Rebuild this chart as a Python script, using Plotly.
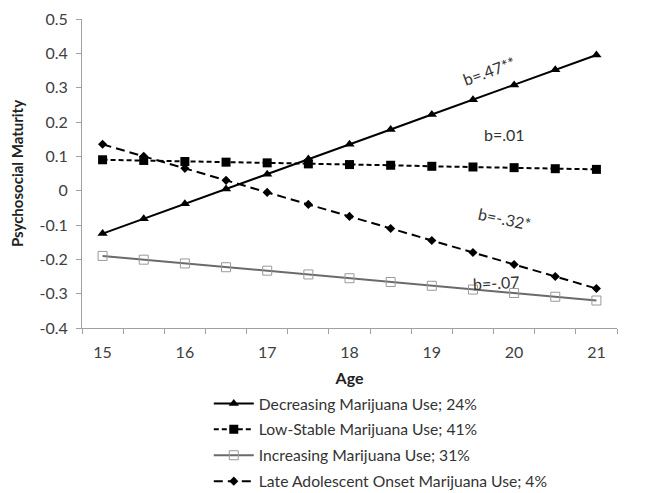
import plotly.graph_objects as go

ages = [15, 15.5, 16, 16.5, 17, 17.5, 18, 18.5, 19, 19.5, 20, 20.5, 21]
decreasing = [-0.125, -0.082, -0.038, 0.005, 0.048, 0.092, 0.135, 0.178, 0.222, 0.265, 0.308, 0.352, 0.395]
low_stable = [0.090, 0.088, 0.085, 0.083, 0.081, 0.078, 0.076, 0.074, 0.071, 0.069, 0.067, 0.064, 0.062]
increasing = [-0.190, -0.201, -0.212, -0.223, -0.233, -0.244, -0.255, -0.266, -0.277, -0.288, -0.298, -0.309, -0.320]
late_onset = [0.135, 0.100, 0.065, 0.030, -0.005, -0.040, -0.075, -0.110, -0.145, -0.180, -0.215, -0.250, -0.285]

names = ["Decreasing Marijuana Use; 24%", "Low-Stable Marijuana Use; 41%",
         "Increasing Marijuana Use; 31%", "Late Adolescent Onset Marijuana Use; 4%"]
x_labels = [15, 16, 17, 18, 19, 20, 21]
y_ticks = [0.5, 0.4, 0.3, 0.2, 0.1, 0, -0.1, -0.2, -0.3, -0.4]
slopes = ["b=.47**", "b=.01", "b=-.32*", "b=-.07"]

FONT = "Lato"

fig = go.Figure()
fig.add_trace(go.Scatter(x=ages, y=decreasing, name=names[0], mode="lines+markers", legendgroup="a",
                         line=dict(color="black", width=2),
                         marker=dict(symbol="triangle-up", size=9, color="black")))
fig.add_trace(go.Scatter(x=ages, y=low_stable, name=names[1], mode="lines+markers", legendgroup="b",
                         line=dict(color="black", width=2, dash="5px,3px"),
                         marker=dict(symbol="square", size=9, color="black")))
fig.add_trace(go.Scatter(x=ages, y=increasing, name=names[2], mode="lines+markers", legendgroup="c",
                         line=dict(color="#6a6a6a", width=2),
                         marker=dict(symbol="square-open", size=9, color="#999999", line=dict(width=1))))
fig.add_trace(go.Scatter(x=ages, y=late_onset, name=names[3], mode="lines+markers", legendgroup="d",
                         line=dict(color="black", width=2, dash="9px,5px"),
                         marker=dict(symbol="diamond", size=7, color="black")))

ann_style = dict(showarrow=False, font=dict(family=FONT, size=16, color="#333333"))
fig.add_annotation(x=19.7, y=0.349, text=slopes[0], textangle=-20, **ann_style)
fig.add_annotation(x=19.88, y=0.163, text=slopes[1], textangle=0, **ann_style)
fig.add_annotation(x=19.88, y=-0.082, text=slopes[2], textangle=12, **ann_style)
fig.add_annotation(x=19.78, y=-0.268, text=slopes[3], textangle=-3, **ann_style)

fig.update_layout(
    width=652, height=493,
    margin=dict(l=74, r=43, t=11, b=173, autoexpand=False),
    plot_bgcolor="white", paper_bgcolor="white",
    font=dict(family=FONT, size=16, color="#404040"),
    showlegend=True,
    legend=dict(x=0.237, y=-0.19, xanchor="left", yanchor="top",
                font=dict(family=FONT, size=15.7, color="#333333"),
                traceorder="grouped", tracegroupgap=2.5, itemwidth=40,
                bgcolor="rgba(0,0,0,0)"),
    xaxis=dict(range=[14.75, 21.25], tickvals=x_labels, ticktext=[str(v) for v in x_labels],
               ticks="", showline=True, linecolor="#a0a0a0", linewidth=1, showgrid=False, zeroline=False,
               automargin=False, ticklabelstandoff=10,
               minor=dict(tick0=14.75, dtick=0.5, ticks="outside", ticklen=5, tickcolor="#a0a0a0", showgrid=False),
               tickfont=dict(size=16, color="#404040"),
               title=dict(text="<b>Age</b>", font=dict(size=16, color="#222222"), standoff=12)),
    yaxis=dict(range=[-0.4, 0.5], tickvals=y_ticks, ticktext=[("%g" % v) for v in y_ticks],
               ticks="outside", ticklen=5, tickcolor="#a0a0a0", automargin=False, ticklabelstandoff=5,
               showline=True, linecolor="#a0a0a0", linewidth=1, showgrid=False, zeroline=False,
               tickfont=dict(size=16, color="#404040"),
               title=dict(text="<b>Psychosocial Maturity</b>", font=dict(size=15, color="#222222"), standoff=14)),
)

fig.write_html("out.html")
